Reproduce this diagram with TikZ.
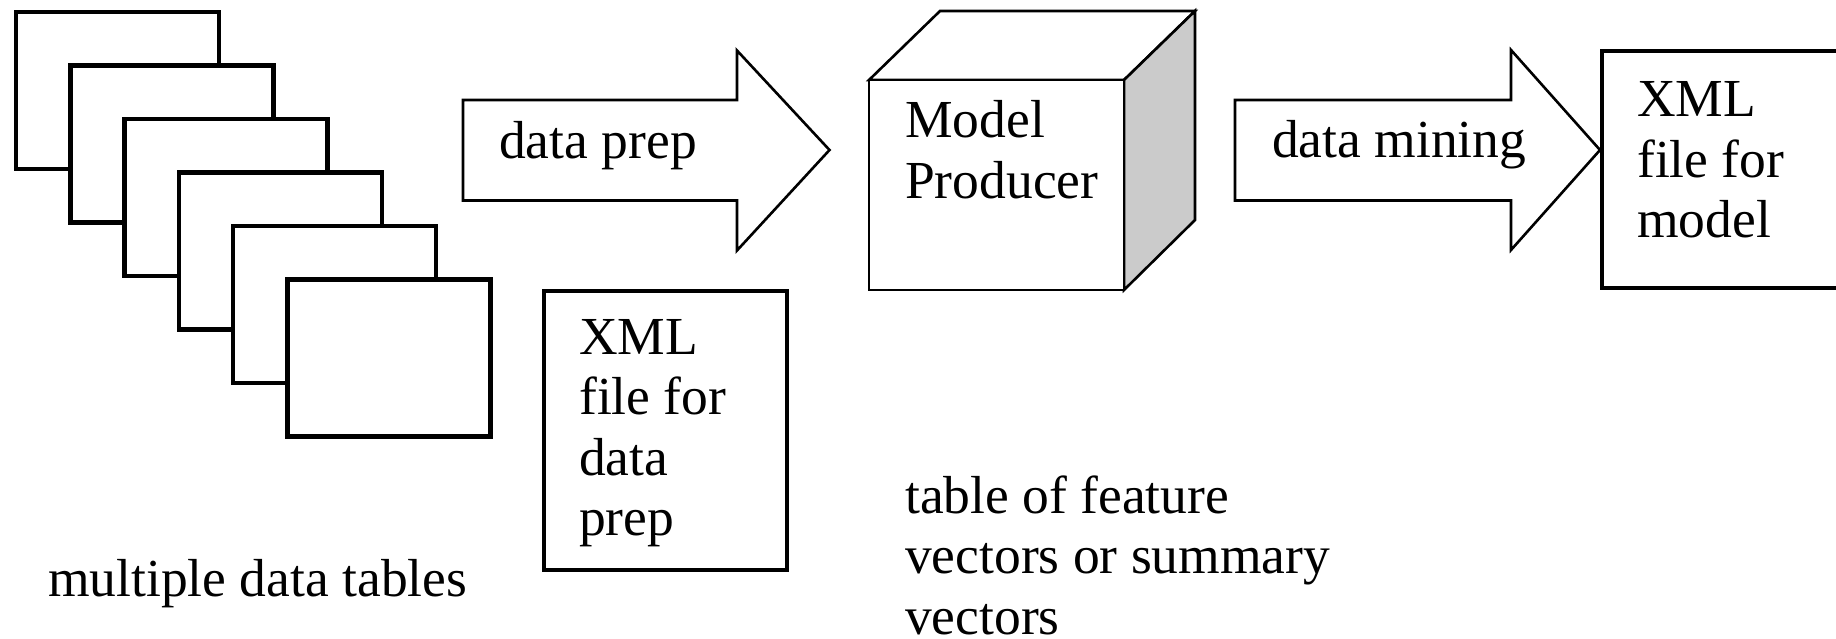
\documentclass[tikz,border=0pt]{standalone}
\usepackage{fontspec}
\setmainfont{Liberation Serif}
\definecolor{cubegray}{RGB}{203,203,203}
\begin{document}
\begin{tikzpicture}[x=1pt,y=-1pt,
  tablebox/.style={draw=black, fill=white, line width=4.5pt},
  blockarrow/.style={draw=black, fill=white, line width=2.6pt, line join=miter},
  cubeface/.style={draw=black, line width=2.6pt, line join=miter},
  filebox/.style={draw=black, fill=white, line width=4pt},
  lbl/.style={inner sep=0pt, anchor=base west, font=\fontsize{53.5}{60.5}\selectfont},
]
\useasboundingbox (0,0) rectangle (1836,639);
% stack of data tables
\foreach \i in {0,...,5} {
  \path[tablebox] ({16+54.3*\i},{12+53.5*\i}) rectangle ++(203,157);
}
\node[lbl] (tables) at (48,596) {multiple data tables};
% data prep arrow
\path[blockarrow] (463,100) -- (737,100) -- (737,50.5) -- (829.5,150)
  -- (737,250.5) -- (737,200.5) -- (463,200.5) -- cycle;
\node[lbl] (dataprep) at (499,159) {data prep};
% XML file for data prep
\path[filebox] (543.5,290.5) rectangle (787,570);
\node[lbl] (xmlprep) at (579,354) {\begin{tabular}[t]{@{}l@{}}XML\\file for\\data\\prep\end{tabular}};
% model producer cube
\path[cubeface, fill=white] (869,80) -- (940,11) -- (1195,11) -- (1124,80) -- cycle;
\path[cubeface, fill=cubegray] (1124,80) -- (1195,11) -- (1195,220) -- (1124,290) -- cycle;
\path[cubeface, fill=white] (869,80) rectangle (1124,290);
\node[lbl] (producer) at (905,138) {\begin{tabular}[t]{@{}l@{}}Model\\Producer\end{tabular}};
\node[lbl] (vectors) at (905,513) {\begin{tabular}[t]{@{}l@{}}table of feature\\vectors or summary\\vectors\end{tabular}};
% data mining arrow
\path[blockarrow] (1235,100) -- (1511,100) -- (1511,50) -- (1600,150)
  -- (1511,250) -- (1511,200.5) -- (1235,200.5) -- cycle;
\node[lbl] (mining) at (1272,158) {data mining};
% XML file for model
\path[filebox] (1602,51) rectangle (1850,288);
\node[lbl] (xmlmodel) at (1637,117) {\begin{tabular}[t]{@{}l@{}}XML\\file for\\model\end{tabular}};
\end{tikzpicture}
\end{document}
